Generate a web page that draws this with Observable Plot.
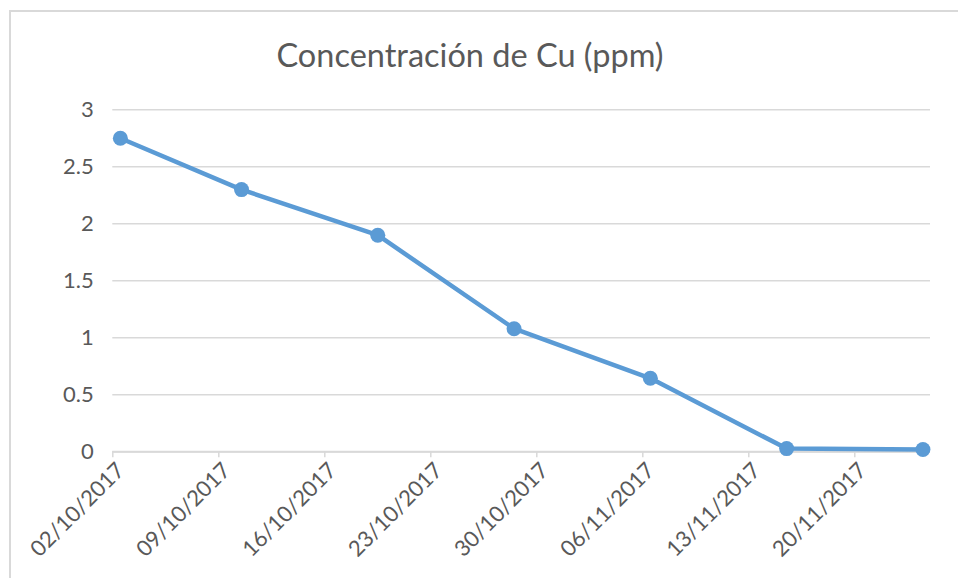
<!DOCTYPE html>
<html>
<head>
<meta charset="utf-8">
<script src="https://cdn.jsdelivr.net/npm/d3@7"></script>
<script src="https://cdn.jsdelivr.net/npm/@observablehq/plot@0.6"></script>
<style>
  html, body { margin: 0; padding: 0; background: #fff; }
  #wrap { position: relative; width: 958px; height: 578px; overflow: hidden; background: #fff; }
  #frame { position: absolute; left: 9px; top: 10px; width: 960px; height: 580px;
           border-left: 2px solid #d9d9d9; border-top: 2px solid #d9d9d9; }
  #title { position: absolute; left: 0; top: 0; width: 940px; height: 90px; line-height: 110px;
           text-align: center; font-family: Lato, "Open Sans", sans-serif; font-size: 32.5px; color: #595959; }
  #chart { position: absolute; left: 0; top: 90px; }
</style>
</head>
<body>
<div id="wrap">
  <div id="frame"></div>
  <div id="title">Concentración de Cu (ppm)</div>
  <div id="chart"></div>
</div>
<script>
const dates = ["2017-10-02", "2017-10-10", "2017-10-19", "2017-10-28", "2017-11-06", "2017-11-15", "2017-11-24"];
const values = [2.75, 2.30, 1.90, 1.08, 0.645, 0.028, 0.02];
const yTicks = [0, 0.5, 1, 1.5, 2, 2.5, 3];
const axisStart = "2017-10-02";
const axisEnd = "2017-11-25";

const parse = d3.utcParse("%Y-%m-%d");
const halfDay = 12 * 3600 * 1000;
const data = dates.map((d, i) => ({date: new Date(+parse(d) + halfDay), value: values[i]}));
const x0 = parse(axisStart), x1 = parse(axisEnd);
const xTicks = d3.utcDay.range(x0, x1, 7);
const fmt = d3.utcFormat("%d/%m/%Y");
const yFmt = d => String(d);

const plot = Plot.plot({
  width: 958,
  height: 488,
  marginLeft: 112.3,
  marginRight: 28,
  marginTop: 19.3,
  marginBottom: 126.7,
  style: {fontFamily: "Lato, 'Open Sans', sans-serif", fontSize: "22px", color: "#595959", background: "transparent"},
  x: {type: "utc", domain: [x0, x1]},
  y: {domain: [0, 3]},
  marks: [
    Plot.gridY(yTicks, {stroke: "#d9d9d9", strokeOpacity: 1, strokeWidth: 1.5}),
    Plot.axisY(yTicks, {tickSize: 0, tickPadding: 19, tickFormat: yFmt, fill: "#595959", fontSize: 22, label: null}),
    Plot.ruleY([0], {stroke: "#d9d9d9", strokeWidth: 2}),
    Plot.axisX(xTicks, {tickSize: 6, stroke: "#d9d9d9", strokeWidth: 1.5, tickFormat: () => "", label: null}),
    Plot.axisX(xTicks, {tickSize: 0, tickFormat: fmt, tickRotate: -45, tickPadding: 13, dx: 8, dy: 2, fill: "#595959", fontSize: 22, label: null}),
    Plot.line(data, {x: "date", y: "value", stroke: "#5b9bd5", strokeWidth: 4.5, strokeLinejoin: "round", strokeLinecap: "round"}),
    Plot.dot(data, {x: "date", y: "value", r: 7.5, fill: "#5b9bd5", stroke: "none"})
  ]
});
document.getElementById("chart").appendChild(plot);
</script>
</body>
</html>
